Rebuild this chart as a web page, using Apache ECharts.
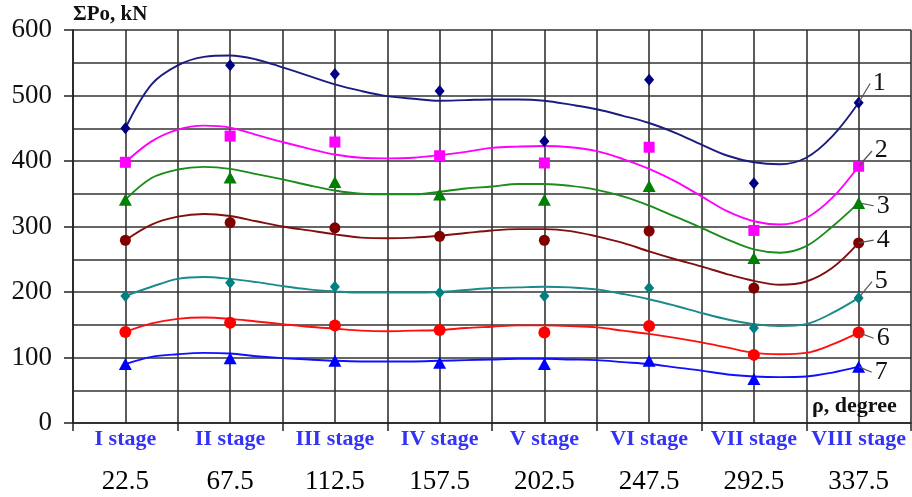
<!DOCTYPE html>
<html>
<head>
<meta charset="utf-8">
<script src="https://cdn.jsdelivr.net/npm/echarts@6/dist/echarts.min.js"></script>
<style>html,body{margin:0;padding:0;background:#fff;}#c{width:912px;height:497px;}</style>
</head>
<body>
<div id="c"></div>
<script>
// ---- data ----
var stages = ['I stage','II stage','III stage','IV stage','V stage','VI stage','VII stage','VIII stage'];
var degrees = [22.5, 67.5, 112.5, 157.5, 202.5, 247.5, 292.5, 337.5];
var yTicks = [0, 100, 200, 300, 400, 500, 600];

// measured points
var p1 = [450, 546, 533, 507, 430, 524, 366, 489];
var p2 = [398, 438, 429, 408, 397, 421, 294, 392];
var p3 = [341, 375, 368, 349, 341, 362, 252, 336];
var p4 = [279, 306, 298, 285, 279, 293, 206, 275];
var p5 = [194, 214, 208, 199, 194, 206, 145, 191];
var p6 = [139, 153, 149, 142, 138, 148, 104, 138];
var p7 = [90, 99, 95, 92, 90, 95, 67, 86];

// trend curves (every 11.25 degrees)
var curveDeg = [22.5, 33.75, 45, 56.25, 67.5, 78.75, 90, 101.25, 112.5, 123.75, 135, 146.25, 157.5, 168.75, 180,
                191.25, 202.5, 213.75, 225, 236.25, 247.5, 258.75, 270, 281.25, 292.5, 303.75, 315, 326.25, 337.5];
var c1 = [450, 517, 546, 559, 561, 555, 543, 530, 517, 507, 499, 495, 492, 493, 494, 494, 492, 486, 479, 469, 458, 443, 425, 408, 398, 395, 405, 438, 489];
var c2 = [398, 430, 448, 454, 451, 440, 429, 419, 410, 405, 404, 405, 409, 414, 420, 422, 423, 421, 415, 403, 388, 369, 346, 323, 308, 303, 313, 344, 392];
var c3 = [341, 374, 387, 391, 388, 380, 372, 363, 355, 350, 349, 349, 353, 358, 361, 365, 365, 362, 356, 346, 332, 315, 298, 280, 265, 260, 270, 300, 336];
var c4 = [279, 303, 315, 319, 316, 308, 300, 294, 288, 283, 282, 283, 286, 290, 294, 296, 296, 293, 285, 275, 262, 250, 239, 227, 217, 211, 216, 237, 275];
var c5 = [194, 208, 220, 223, 220, 215, 209, 204, 201, 199, 199, 199, 200, 203, 206, 207, 208, 207, 204, 197, 189, 179, 168, 158, 151, 148, 151, 168, 191];
var c6 = [139, 152, 159, 161, 159, 155, 151, 147, 144, 141, 140, 141, 142, 145, 147, 149, 149, 148, 146, 141, 136, 130, 123, 115, 107, 105, 107, 120, 138];
var c7 = [90, 101, 105, 107, 106, 102, 99, 97, 95, 94, 94, 94, 95, 96, 97, 98, 98, 97, 96, 93, 90, 85, 80, 74, 71, 70, 71, 77, 86];
var seriesNames = ['1','2','3','4','5','6','7'];

// ---- styles ----
var points = [p1,p2,p3,p4,p5,p6,p7];
var curves = [c1,c2,c3,c4,c5,c6,c7];
var colors = ['#000080','#FF00FF','#008000','#800000','#008080','#FF0000','#0000FF'];
var lineColors = ['#1c1c80','#FF00FF','#1a8c1a','#801010','#1a8a8a','#FF1010','#1010FF'];
var symbols = ['diamond','rect','triangle','circle','diamond','circle','triangle'];
var symSizes = [[10,12],11,[13,12],11,[10,12],12,[13,12]];
var labelOffsets = [[18,-20],[20,-16],[22,3],[22,-3],[20,-17],[22,6],[20,6]];

var serif = '"Liberation Serif","Times New Roman",serif';
var gridColor = '#333';

var chart = echarts.init(document.getElementById('c'), null, {renderer:'canvas'});

function pairs(xs, ys){ return xs.map(function(x,i){ return [x, ys[i]]; }); }

var series = [];
curves.forEach(function(c, i){
  series.push({
    type:'line', xAxisIndex:0, yAxisIndex:0, data: pairs(curveDeg, c),
    smooth:0.35, showSymbol:false, symbol:'none', silent:true,
    lineStyle:{color: lineColors[i], width:1.9}, z:3
  });
});
points.forEach(function(p, i){
  series.push({
    type:'scatter', xAxisIndex:0, yAxisIndex:0, name: seriesNames[i], data: pairs(degrees, p),
    symbol: symbols[i], symbolSize: symSizes[i],
    itemStyle:{color: colors[i], opacity:1}, z:4
  });
});

var option = {
  animation:false,
  backgroundColor:'#fff',
  grid:{left:73, right:1, top:30, bottom:74, containLabel:false},
  xAxis:[{
    type:'value', min:0, max:360, interval:22.5, position:'bottom',
    axisLine:{show:true, lineStyle:{color:'#222', width:1.6}},
    axisTick:{show:false}, axisLabel:{show:false},
    splitLine:{show:true, lineStyle:{color:gridColor, width:1.6}}
  },{
    type:'category', data: stages, boundaryGap:true, position:'bottom',
    axisLine:{show:false},
    axisTick:{show:true, length:8, lineStyle:{color:'#222', width:1.5}},
    splitLine:{show:false},
    axisLabel:{
      interval:0, margin:4,
      formatter:function(v, idx){ return '{a|' + v + '}\n{b|' + degrees[idx] + '}'; },
      rich:{
        a:{fontFamily:serif, fontWeight:'bold', fontSize:22, color:'#3333f5', lineHeight:24, align:'center'},
        b:{fontFamily:serif, fontSize:27, color:'#000', lineHeight:62, align:'center'}
      }
    }
  }],
  yAxis:[{
    type:'value', min:0, max:600, interval:100,
    axisLine:{show:true, lineStyle:{color:'#222', width:1.6}},
    axisTick:{show:true, length:9, lineStyle:{color:'#222', width:1.5}},
    axisLabel:{fontFamily:serif, fontSize:27, color:'#111', margin:21,
      formatter:function(v){ return yTicks.indexOf(v) >= 0 ? String(v) : ''; }},
    splitLine:{show:true, lineStyle:{color:gridColor, width:1.6}},
    minorTick:{show:false, splitNumber:2},
    minorSplitLine:{show:true, lineStyle:{color:gridColor, width:1.6}}
  }],
  series: series
};
chart.setOption(option);

// axis titles and series number labels
var graphics = [
  {type:'text', left:73, top:4, style:{text:'ΣPo, kN', font:'bold 21px ' + serif, fill:'#111'}},
  {type:'text', left:812, top:395, style:{text:'ρ, degree', font:'bold 22px ' + serif, fill:'#111'}}
];
points.forEach(function(p, i){
  var last = p.length - 1;
  var px = chart.convertToPixel({xAxisIndex:0, yAxisIndex:0}, [degrees[last], p[last]]);
  var o = labelOffsets[i];
  var tx = px[0] + o[0], ty = px[1] + o[1];
  var dx = tx - 6 - px[0], dy = ty - px[1];
  var len = Math.sqrt(dx*dx + dy*dy);
  graphics.push({type:'line', shape:{x1:px[0], y1:px[1], x2:px[0] + dx*(len-1)/len, y2:px[1] + dy*(len-1)/len},
    style:{stroke:'#555', lineWidth:1.2}, z:5});
  graphics.push({type:'text', x:tx - 4, y:ty, style:{text:seriesNames[i], font:'26px ' + serif, fill:'#111',
    textAlign:'left', textVerticalAlign:'middle'}, z:6});
});
chart.setOption({graphic: graphics});
</script>
</body>
</html>
